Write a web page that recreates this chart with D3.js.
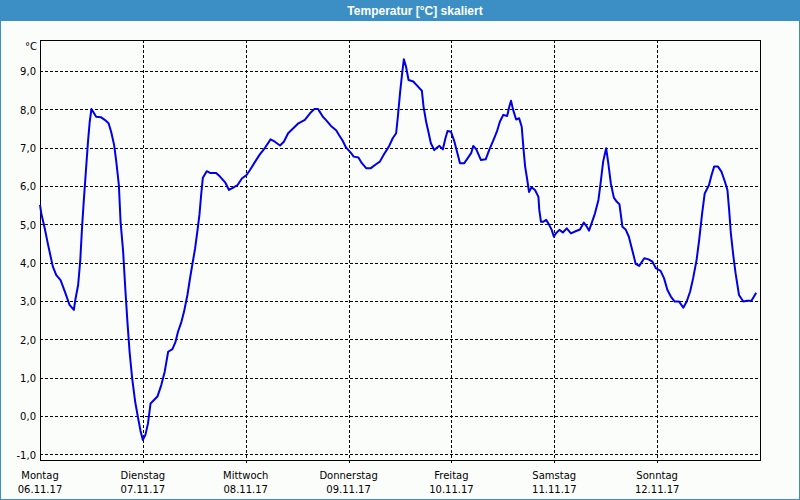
<!DOCTYPE html>
<html>
<head>
<meta charset="utf-8">
<script src="https://cdn.jsdelivr.net/npm/d3@7/dist/d3.min.js"></script>
<style>
  html, body { margin: 0; padding: 0; background: #fbfdfb; }
  svg { display: block; }
</style>
</head>
<body>
<script>
// ---- data ----
const chartTitle = "Temperatur [°C] skaliert";
const unitLabel = "°C";
const dayNames = ["Montag", "Dienstag", "Mittwoch", "Donnerstag", "Freitag", "Samstag", "Sonntag"];
const dayDates = ["06.11.17", "07.11.17", "08.11.17", "09.11.17", "10.11.17", "11.11.17", "12.11.17"];
const dayHours = [0, 24, 48, 72, 96, 120, 144];
const yTicks = [-1, 0, 1, 2, 3, 4, 5, 6, 7, 8, 9];
// hours since Monday 06.11.17 00:00
const hours = [
  0.0, 0.3, 1.1, 1.9, 3.0, 3.8, 4.8, 5.8, 6.9, 7.9, 8.3, 8.9, 9.4, 9.8, 10.2, 10.7, 11.2, 11.6, 12.0, 12.4,
  13.1, 14.2, 15.1, 16.0, 16.6, 17.3, 17.8, 18.4, 18.8, 19.4, 19.9, 20.4, 20.9, 21.5, 22.2, 22.9, 23.5, 24.0, 24.6, 25.2,
  25.8, 26.6, 27.4, 28.3, 29.1, 29.9, 30.9, 31.6, 32.2, 33.0, 33.6, 34.4, 35.0, 35.6, 36.2, 36.7, 37.2, 37.6, 38.0, 38.9,
  39.8, 41.1, 42.0, 43.2, 44.1, 45.1, 46.1, 47.1, 48.2, 49.0, 50.2, 51.3, 52.5, 53.8, 54.8, 56.0, 56.9, 57.9, 59.1, 60.3,
  61.8, 63.0, 64.0, 64.9, 66.0, 66.7, 67.9, 69.1, 69.8, 70.6, 71.4, 72.6, 73.2, 74.3, 75.1, 76.1, 77.2, 78.4, 79.3, 80.3,
  81.4, 82.3, 83.1, 83.5, 84.0, 84.5, 84.9, 85.4, 86.0, 87.1, 88.1, 89.1, 89.5, 90.1, 90.7, 91.2, 92.0, 92.6, 93.2, 94.0,
  94.6, 95.1, 95.9, 96.7, 97.5, 98.0, 99.0, 99.8, 100.6, 101.1, 101.8, 102.9, 104.0, 104.8, 105.8, 106.6, 107.3, 108.1, 109.0, 109.5,
  109.9, 110.4, 111.1, 111.8, 112.4, 112.8, 113.2, 113.7, 114.1, 114.7, 115.5, 116.3, 116.5, 116.9, 117.4, 118.1, 118.8, 119.4, 119.9, 120.4,
  121.2, 122.0, 122.9, 123.9, 125.1, 126.0, 126.9, 127.6, 128.1, 128.7, 129.5, 130.3, 130.8, 131.4, 132.1, 132.6, 133.2, 133.9, 134.6, 135.2,
  135.9, 136.7, 137.4, 138.2, 139.0, 139.8, 141.0, 142.0, 142.9, 143.7, 144.8, 145.6, 146.4, 147.2, 148.1, 149.1, 150.1, 150.9, 151.7, 152.4,
  153.2, 153.8, 154.5, 155.1, 156.1, 156.7, 157.3, 158.2, 159.0, 159.8, 160.4, 160.8, 161.2, 161.8, 162.3, 163.1, 164.1, 165.0, 166.0, 166.6,
  167.1
];
const temps = [
  5.52, 5.30, 4.91, 4.47, 3.91, 3.69, 3.56, 3.26, 2.91, 2.78, 3.08, 3.43, 4.08, 4.91, 5.60, 6.39, 7.17, 7.69, 8.02, 7.95,
  7.82, 7.81, 7.74, 7.65, 7.43, 7.08, 6.65, 6.04, 5.08, 4.30, 3.34, 2.47, 1.69, 1.00, 0.39, -0.05, -0.40, -0.61, -0.48, -0.18,
  0.34, 0.43, 0.52, 0.82, 1.17, 1.69, 1.76, 1.94, 2.21, 2.47, 2.73, 3.17, 3.60, 4.00, 4.39, 4.82, 5.26, 5.78, 6.23, 6.40,
  6.35, 6.35, 6.26, 6.11, 5.91, 5.97, 6.04, 6.21, 6.30, 6.43, 6.65, 6.84, 7.01, 7.23, 7.17, 7.07, 7.17, 7.39, 7.52, 7.65,
  7.74, 7.91, 8.02, 8.02, 7.82, 7.74, 7.58, 7.47, 7.34, 7.20, 7.02, 6.87, 6.78, 6.76, 6.61, 6.48, 6.48, 6.58, 6.65, 6.85,
  7.04, 7.26, 7.39, 7.82, 8.43, 8.95, 9.32, 9.13, 8.78, 8.74, 8.62, 8.50, 8.08, 7.69, 7.39, 7.13, 6.95, 7.01, 7.06, 6.97,
  7.26, 7.45, 7.43, 7.17, 6.82, 6.61, 6.61, 6.74, 6.87, 7.06, 6.97, 6.69, 6.71, 6.95, 7.21, 7.43, 7.69, 7.87, 7.84, 8.08,
  8.24, 8.00, 7.75, 7.78, 7.56, 7.00, 6.52, 6.17, 5.86, 5.98, 5.91, 5.73, 5.39, 5.08, 5.08, 5.13, 5.00, 4.87, 4.69, 4.78,
  4.87, 4.80, 4.91, 4.78, 4.84, 4.88, 5.06, 4.95, 4.85, 5.04, 5.30, 5.65, 6.08, 6.65, 7.00, 6.61, 6.08, 5.71, 5.60, 5.54,
  4.95, 4.87, 4.69, 4.34, 3.98, 3.93, 4.13, 4.10, 4.04, 3.87, 3.80, 3.61, 3.30, 3.13, 3.00, 3.00, 2.84, 3.00, 3.26, 3.61,
  4.08, 4.60, 5.30, 5.82, 6.04, 6.30, 6.52, 6.52, 6.39, 6.13, 5.91, 5.39, 4.78, 4.17, 3.74, 3.17, 3.00, 3.02, 3.02, 3.13,
  3.23
];

// ---- layout ----
const W = 800, H = 500;
const plot = { left: 40, right: 760, top: 40, bottom: 460 };
const font = "'DejaVu Sans', sans-serif";

const svg = d3.select("body").append("svg").attr("width", W).attr("height", H);

// window frame
svg.append("rect").attr("x", 0).attr("y", 0).attr("width", W).attr("height", H).attr("fill", "#fbfdfb");
svg.append("rect").attr("x", 0.5).attr("y", 0.5).attr("width", W - 1).attr("height", H - 1)
  .attr("fill", "none").attr("stroke", "#3c8fc4").attr("stroke-width", 1);
svg.append("rect").attr("x", 0).attr("y", 0).attr("width", W).attr("height", 21).attr("fill", "#3c8fc4");
svg.append("text").attr("x", 415).attr("y", 15).attr("text-anchor", "middle")
  .attr("fill", "#ffffff").attr("font-family", "'Liberation Sans', Arial, sans-serif")
  .attr("font-weight", "bold").attr("font-size", "12px").text(chartTitle);

// scales
const x = d3.scaleLinear().domain([0, 168]).range([plot.left, plot.right]);
const y = d3.scaleLinear().domain([-1.135, 9.823]).range([plot.bottom, plot.top]);

// horizontal grid
svg.append("g").selectAll("line").data(yTicks).join("line")
  .attr("x1", plot.left).attr("x2", plot.right)
  .attr("y1", d => Math.floor(y(d)) + 0.5).attr("y2", d => Math.floor(y(d)) + 0.5)
  .attr("stroke", "#000").attr("stroke-width", 1).attr("stroke-dasharray", "3,2")
  .attr("shape-rendering", "crispEdges");

// vertical grid (days) with small ticks below axis
svg.append("g").selectAll("line").data(dayHours.slice(1)).join("line")
  .attr("x1", d => Math.round(x(d)) + 0.5).attr("x2", d => Math.round(x(d)) + 0.5)
  .attr("y1", plot.top).attr("y2", plot.bottom + 4)
  .attr("stroke", "#000").attr("stroke-width", 1).attr("stroke-dasharray", "3,2")
  .attr("shape-rendering", "crispEdges");

// y axis labels
const yAxis = d3.axisLeft(y).tickValues(yTicks)
  .tickFormat(d => d.toFixed(1).replace(".", ","))
  .tickSize(0).tickPadding(4);
const gy = svg.append("g").attr("transform", `translate(${plot.left},0)`).call(yAxis);
gy.select(".domain").remove();
gy.selectAll("text").attr("font-family", font).attr("font-size", "10px").attr("fill", "#000");

svg.append("text").attr("x", 37).attr("y", 50).attr("text-anchor", "end")
  .attr("font-family", font).attr("font-size", "10px").attr("fill", "#000").text(unitLabel);

// x axis labels
const xl = svg.append("g");
xl.selectAll("text.day").data(dayHours).join("text").attr("class", "day")
  .attr("x", d => x(d)).attr("y", 479).attr("text-anchor", "middle")
  .attr("font-family", font).attr("font-size", "10px").attr("fill", "#000")
  .text((d, i) => dayNames[i]);
xl.selectAll("text.date").data(dayHours).join("text").attr("class", "date")
  .attr("x", d => x(d)).attr("y", 493).attr("text-anchor", "middle")
  .attr("font-family", font).attr("font-size", "10px").attr("fill", "#000")
  .text((d, i) => dayDates[i]);

// plot border
svg.append("rect").attr("x", plot.left + 0.5).attr("y", plot.top + 0.5)
  .attr("width", plot.right - plot.left).attr("height", plot.bottom - plot.top)
  .attr("fill", "none").attr("stroke", "#000").attr("stroke-width", 1)
  .attr("shape-rendering", "crispEdges");

// temperature line
const pts = hours.map((h, i) => [h, temps[i]]);
const line = d3.line().x(d => x(d[0])).y(d => y(d[1]));
svg.append("path").datum(pts)
  .attr("d", line)
  .attr("fill", "none").attr("stroke", "#0000e6").attr("stroke-width", 2)
  .attr("stroke-linejoin", "round");
</script>
</body>
</html>
